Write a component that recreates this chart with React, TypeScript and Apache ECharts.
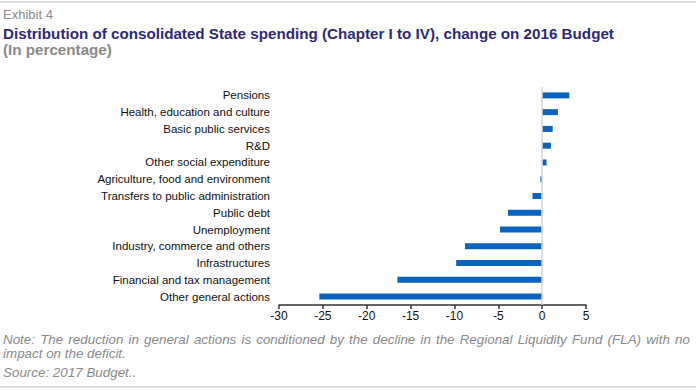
import React, { useEffect, useRef } from "react";
import * as echarts from "echarts";

const categories = [
  "Other general actions",
  "Financial and tax management",
  "Infrastructures",
  "Industry, commerce and others",
  "Unemployment",
  "Public debt",
  "Transfers to public administration",
  "Agriculture, food and environment",
  "Other social expenditure",
  "R&D",
  "Basic public services",
  "Health, education and culture",
  "Pensions",
];
const values = [-25.4, -16.5, -9.8, -8.8, -4.8, -3.9, -1.1, -0.2, 0.5, 1.0, 1.2, 1.8, 3.1];
const xTicks = { min: -30, max: 5, interval: 5 };

const noteLine1 =
  "Note: The reduction in general actions is conditioned by the decline in the Regional Liquidity Fund (FLA) with no";
const noteLine2 = "impact on the deficit.";
const sourceText = "Source: 2017 Budget..";

const FONT = "'Liberation Sans', Arial, sans-serif";
const NOTE_FONT = `italic 13.4px ${FONT}`;

function justifiedWords(text: string, x0: number, x1: number, top: number) {
  const ctx = document.createElement("canvas").getContext("2d");
  const words = text.split(" ");
  if (!ctx) {
    return [{ type: "text", left: x0, top, style: { text, fill: "#8a8a8a", font: NOTE_FONT } }];
  }
  ctx.font = NOTE_FONT;
  const widths = words.map((w) => ctx.measureText(w).width);
  const total = widths.reduce((a, b) => a + b, 0);
  const gap = (x1 - x0 - total) / (words.length - 1);
  const out: any[] = [];
  let x = x0;
  words.forEach((w, i) => {
    out.push({ type: "text", x, y: top, style: { text: w, fill: "#8a8a8a", font: NOTE_FONT, textVerticalAlign: "top" } });
    x += widths[i] + gap;
  });
  return out;
}

export default function App() {
  const ref = useRef<HTMLDivElement>(null);
  useEffect(() => {
    if (!ref.current) return;
    const chart = echarts.init(ref.current, undefined, { renderer: "svg" });
    chart.setOption({
      animation: false,
      backgroundColor: "#ffffff",
      textStyle: { fontFamily: FONT },
      grid: { left: 279, right: 110, top: 87, bottom: 85, containLabel: false },
      xAxis: {
        type: "value",
        min: xTicks.min,
        max: xTicks.max,
        interval: xTicks.interval,
        axisLine: { show: true, lineStyle: { color: "#333333", width: 1.5 } },
        axisTick: { show: true, inside: false, length: 4, lineStyle: { color: "#333333", width: 1.5 } },
        axisLabel: { color: "#111111", fontSize: 12, margin: 5, fontFamily: FONT },
        splitLine: { show: false },
      },
      yAxis: {
        type: "category",
        data: categories,
        axisLine: { show: false, onZero: false },
        axisTick: { show: false },
        axisLabel: { color: "#111111", fontSize: 11.5, margin: 9, fontFamily: FONT },
        splitLine: { show: false },
      },
      series: [
        {
          type: "bar",
          data: values,
          barWidth: 6,
          itemStyle: { color: "#0a63bf" },
          markLine: {
            silent: true,
            symbol: "none",
            label: { show: false },
            lineStyle: { color: "#d4d4d4", width: 1.5, type: "solid" },
            data: [{ xAxis: 0 }],
          },
        },
      ],
      graphic: [
        { type: "rect", shape: { x: 0, y: 1, width: 696, height: 2 }, style: { fill: "#dcdcdc" } },
        { type: "rect", shape: { x: 0, y: 386, width: 696, height: 2 }, style: { fill: "#dcdcdc" } },
        {
          type: "text",
          left: 3,
          top: 8,
          style: { text: "Exhibit 4", fill: "#8a8a8a", font: `13px ${FONT}` },
        },
        {
          type: "text",
          left: 3,
          top: 26,
          style: {
            text: "Distribution of consolidated State spending (Chapter I to IV), change on 2016 Budget",
            fill: "#2e2a78",
            font: `bold 15.2px ${FONT}`,
          },
        },
        {
          type: "text",
          left: 3,
          top: 42,
          style: { text: "(In percentage)", fill: "#8a8a8a", font: `bold 15.2px ${FONT}` },
        },
        ...justifiedWords(noteLine1, 3, 690, 333),
        {
          type: "text",
          left: 3,
          top: 347,
          style: { text: noteLine2, fill: "#8a8a8a", font: NOTE_FONT },
        },
        {
          type: "text",
          left: 3,
          top: 366,
          style: { text: sourceText, fill: "#8a8a8a", font: NOTE_FONT },
        },
      ],
    });
    return () => chart.dispose();
  }, []);
  return (
    <div
      ref={ref}
      style={{ position: "fixed", left: 0, top: 0, width: 696, height: 390 }}
    />
  );
}
